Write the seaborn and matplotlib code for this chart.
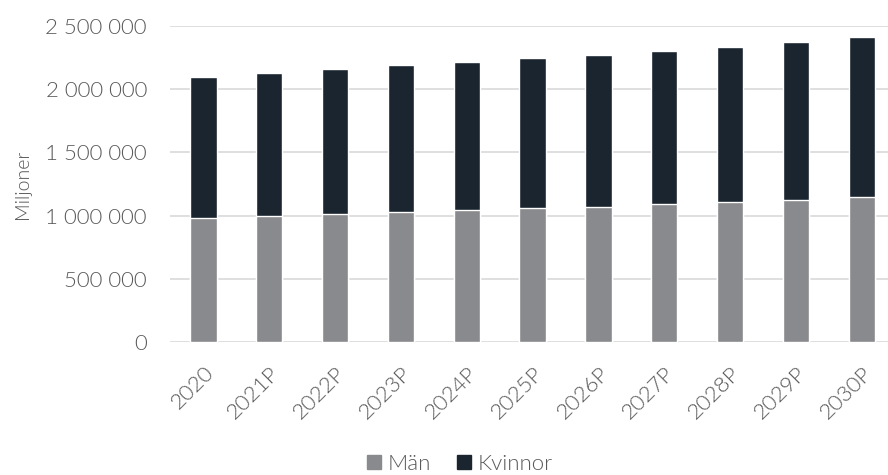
import matplotlib
matplotlib.use("Agg")
import matplotlib.pyplot as plt
import matplotlib.ticker as mticker
from matplotlib.patches import Patch
import pandas as pd
import seaborn as sns

years = ["2020", "2021P", "2022P", "2023P", "2024P", "2025P",
         "2026P", "2027P", "2028P", "2029P", "2030P"]
man = [981000, 997000, 1013000, 1028000, 1044000, 1058000,
       1071000, 1089000, 1105000, 1126000, 1147000]
kvinnor = [1117000, 1134000, 1147000, 1161000, 1171000, 1186000,
           1200000, 1211000, 1229000, 1247000, 1266000]

df = pd.DataFrame({"år": years, "Män": man, "Kvinnor": kvinnor})
df["Totalt"] = df["Män"] + df["Kvinnor"]

c_man = "#898a8d"
c_kv = "#1a2530"
c_text = "#595959"

sns.set_theme(style="white")
plt.rcParams["font.family"] = ["Lato", "DejaVu Sans"]

fig = plt.figure(figsize=(8.88, 4.75), dpi=100)
ax = fig.add_axes([0.192, 0.28, 0.808, 0.665])

# stacked: total in dark colour, men drawn over it
sns.barplot(data=df, x="år", y="Totalt", color=c_kv, width=0.4,
            saturation=1, ax=ax, zorder=3)
sns.barplot(data=df, x="år", y="Män", color=c_man, width=0.4,
            saturation=1, ax=ax, zorder=4)

ax.set_ylim(0, 2500000)
ax.set_xlim(-0.5, 10.40)
ax.yaxis.set_major_locator(mticker.MultipleLocator(500000))
ax.yaxis.set_major_formatter(
    mticker.FuncFormatter(lambda v, p: f"{int(v):,}".replace(",", " ")))
ax.grid(axis="y", color="#d9d9d9", linewidth=1.2, zorder=0)
ax.set_axisbelow(True)
for s in ax.spines.values():
    s.set_visible(False)

ax.tick_params(axis="both", length=0, colors=c_text, labelsize=16)
ax.tick_params(axis="y", pad=17)
ax.tick_params(axis="x", pad=15)
for lab in ax.get_yticklabels():
    lab.set_fontweight(300)
for lab in ax.get_xticklabels():
    lab.set_rotation(45)
    lab.set_ha("right")
    lab.set_rotation_mode("anchor")
    lab.set_fontweight(300)

ax.set_xlabel("")
ax.set_ylabel("Miljoner", color=c_text, fontsize=14, fontweight=300,
              labelpad=10)

handles = [Patch(color=c_man, label="Män"), Patch(color=c_kv, label="Kvinnor")]
leg = fig.legend(handles=handles, loc="lower center", ncol=2,
                 bbox_to_anchor=(0.518, -0.04), frameon=False,
                 handlelength=0.6, handleheight=0.6, handletextpad=0.3,
                 columnspacing=1.2, fontsize=16)
for t in leg.get_texts():
    t.set_color(c_text)
    t.set_fontweight(300)

fig.savefig("out.png", dpi=100)
plt.close(fig)
